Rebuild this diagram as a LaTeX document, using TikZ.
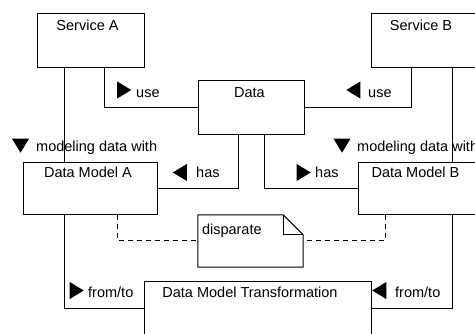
\documentclass[tikz,border=0pt]{standalone}
\usepackage{fontspec}
\setmainfont{Liberation Sans}
\usetikzlibrary{shapes.geometric}
\tikzset{
  umlbox/.style={draw, line width=1pt, inner sep=0pt},
  boxtitle/.style={anchor=base, inner sep=0pt},
  conn/.style={line width=1pt},
  dashconn/.style={line width=1pt, dash pattern=on 5pt off 4pt},
  rolelabel/.style={anchor=base west, inner sep=0pt},
  dirmark/.style={isosceles triangle, isosceles triangle stretches, fill=black,
                  inner sep=0pt, outer sep=0pt, minimum width=17, minimum height=14},
  markR/.style={dirmark, shape border rotate=0},
  markL/.style={dirmark, shape border rotate=180},
  markD/.style={dirmark, shape border rotate=270}
}

\begin{document}
\begin{tikzpicture}[x=1pt, y=-1pt, font=\fontsize{14.5}{16}\selectfont]
\useasboundingbox (0,0) rectangle (475,334);
\clip (0,0) rectangle (475,334);
% classes
\node[umlbox, minimum width=107, minimum height=54] (srvA) at (90.5,41) {};
\node[umlbox, minimum width=107, minimum height=54] (srvB) at (424.5,41) {};
\node[umlbox, minimum width=106, minimum height=54] (data) at (251,108) {};
\node[umlbox, minimum width=134, minimum height=52] (dmA) at (90,189) {};
\node[umlbox, minimum width=134, minimum height=52] (dmB) at (425,189) {};
\node[umlbox, minimum width=227, minimum height=54] (trans) at (257.5,309) {};
\node[boxtitle] (srvAtxt) at ([xshift=-3,yshift=-17]srvA.north) {Service A};
\node[boxtitle] (srvBtxt) at ([xshift=-3.5,yshift=-17]srvB.north) {Service B};
\node[boxtitle] (datatxt) at ([xshift=-1.5,yshift=-17]data.north) {Data};
\node[boxtitle] (dmAtxt) at ([xshift=-2,yshift=-15]dmA.north) {Data Model A};
\node[boxtitle] (dmBtxt) at ([xshift=-9.5,yshift=-15]dmB.north) {Data Model B};
\node[boxtitle] (transtxt) at ([xshift=-7.5,yshift=-16]trans.north) {Data Model Transformation};
% note
\node[minimum width=105, minimum height=52, inner sep=0pt] (note) at (250.5,241) {};
\draw[conn] (note.north west) -- ([xshift=-20]note.north east) -- ([yshift=-20]note.north east)
  -- (note.south east) -- (note.south west) -- cycle;
\draw[conn] ([xshift=-20]note.north east) |- ([yshift=-20]note.north east);
\node[anchor=base west, inner sep=0pt] (notetxt) at ([xshift=4,yshift=-20]note.north west) {disparate};
% associations
\draw[conn] ([xshift=-26.5]srvA.south) coordinate (a1) -- (a1 |- dmA.north);
\draw[conn] ([xshift=13.5]srvA.south) |- (data.west);
\draw[conn] ([xshift=-13.5]srvB.south) |- (data.east);
\draw[conn] ([xshift=27.5]srvB.south) coordinate (b1) -- (b1 |- dmB.north);
\draw[conn] ([xshift=-13]data.south) |- (dmA.east);
\draw[conn] ([xshift=13]data.south) |- (dmB.west);
\draw[conn] ([xshift=-26]dmA.south) |- (trans.west);
\draw[conn] ([xshift=27]dmB.south) |- (trans.east);
\draw[dashconn] ([xshift=27]dmA.south) |- (note.west);
\draw[dashconn] ([xshift=-40]dmB.south) |- (note.east);
% role labels
\node[markR] (useAm) at (122,90) {};
\node[rolelabel] (useA) at (136,98) {use};
\node[markL] (useBm) at (355.5,90) {};
\node[rolelabel] (useB) at (368,98) {use};
\node[markD] (modAm) at (20.5,143.5) {};
\node[rolelabel] (modA) at (36,152) {modeling data with};
\node[markD] (modBm) at (342,143.5) {};
\node[rolelabel] (modB) at (357,152) {modeling data with};
\node[markL] (hasAm) at (182,172.5) {};
\node[rolelabel] (hasA) at (196,178) {has};
\node[markR] (hasBm) at (301.5,172.5) {};
\node[rolelabel] (hasB) at (315,178) {has};
\node[markR] (ftAm) at (74.5,290.5) {};
\node[rolelabel] (ftA) at (88,298) {from/to};
\node[markL] (ftBm) at (381.5,290.5) {};
\node[rolelabel] (ftB) at (395,298) {from/to};
\end{tikzpicture}
\end{document}
